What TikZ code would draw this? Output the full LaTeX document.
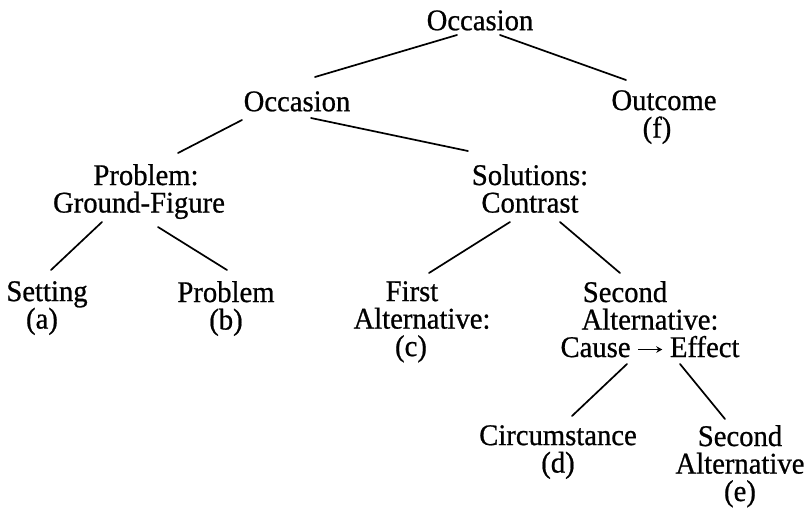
\documentclass[tikz,border=0pt]{standalone}
\usepackage{fontspec}
\usetikzlibrary{arrows.meta}
\setmainfont{Liberation Serif}[FakeBold=0.7,FakeStretch=0.955]
% short arrow with a solid head, set inside a line of text
\newcommand{\causearrow}{\tikz[x=1pt,y=1pt,baseline=-7.5pt]
  \draw[line width=1.1pt,-{Stealth[length=6pt,width=6.5pt]}] (0,0) -- (24,0);}
\begin{document}
\begin{tikzpicture}[x=1pt,y=-1pt,
  lbl/.style={inner sep=0pt, anchor=north, align=center,
    font=\fontsize{30}{27.5}\selectfont,
    execute at begin node={\rule{0pt}{21pt}}},
  branch/.style={line width=1.7pt, line cap=round}]
\useasboundingbox (0,0) rectangle (806,515);

% tree labels, placed by the top of their first line
\node[lbl] (top)    at (480,9)   {Occasion};
\node[lbl] (occ)    at (297,90)  {Occasion};
\node[lbl] (out)    at (664,90)  {Outcome\\(f)\hspace*{14pt}};
\node[lbl] (prob)   at (139,164) {\hspace*{14pt}Problem:\\Ground-Figure};
\node[lbl] (sol)    at (530,164) {Solutions:\\Contrast};
\node[lbl] (set)    at (47,281)  {Setting\\(a)\hspace*{10pt}};
\node[lbl] (pb)     at (226,281) {Problem\\(b)};
\node[lbl] (first)  at (422,281) {First\hspace*{20pt}\\Alternative:\\(c)\hspace*{22pt}};
\node[lbl] (second) at (650,281) {Second\hspace*{50pt}\\Alternative:\hspace*{12pt}\\Cause \causearrow\ Effect};
\node[lbl] (circ)   at (558,425) {Circumstance\\(d)};
\node[lbl] (sec2)   at (740,425) {Second\\Alternative\\(e)};

% branches
\draw[branch] ([shift={(-23,26)}]top.north) -- ([shift={(18,-13)}]occ.north);
\draw[branch] ([shift={(20,26)}]top.north) -- ([shift={(-38,-10)}]out.north);
\draw[branch] ([shift={(-55,30)}]occ.north) -- ([shift={(39,-11)}]prob.north);
\draw[branch] ([shift={(14,28)}]occ.north) -- ([shift={(-62,-13)}]sol.north);
\draw[branch] ([shift={(-37,58)}]prob.north) -- ([shift={(4,-11)}]set.north);
\draw[branch] ([shift={(19,63)}]prob.north) -- ([shift={(1,-11)}]pb.north);
\draw[branch] ([shift={(-20,58)}]sol.north) -- ([shift={(7,-8)}]first.north);
\draw[branch] ([shift={(30,58)}]sol.north) -- ([shift={(-30,-8)}]second.north);
\draw[branch] ([shift={(-23,83)}]second.north) -- ([shift={(14,-9)}]circ.north);
\draw[branch] ([shift={(30,83)}]second.north) -- ([shift={(-15,-6)}]sec2.north);
\end{tikzpicture}
\end{document}
